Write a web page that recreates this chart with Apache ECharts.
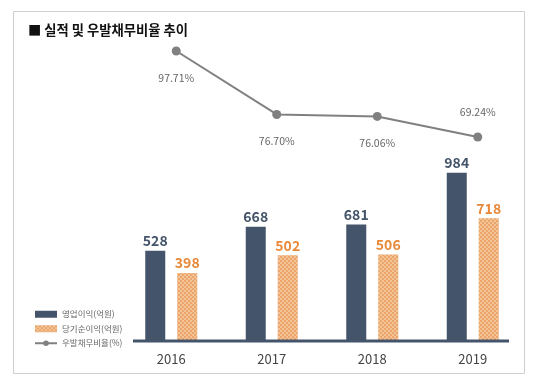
<!DOCTYPE html>
<html><head><meta charset="utf-8">
<script src="https://cdn.jsdelivr.net/npm/echarts@6/dist/echarts.min.js"></script>
<style>html,body{margin:0;padding:0;background:#fff}#c{width:540px;height:383px}</style>
</head><body><div id="c"></div>
<script>
const categories = ['2016', '2017', '2018', '2019'];
const operatingProfit = [528, 668, 681, 984];
const netProfit = [398, 502, 506, 718];
const contingentRatio = [97.71, 76.70, 76.06, 69.24];
const seriesNames = ['영업이익(억원)', '당기순이익(억원)', '우발채무비율(%)'];
const titleText = '■ 실적 및 우발채무비율 추이';

const font = '"Noto Sans CJK KR", "Noto Sans", sans-serif';
const chart = echarts.init(document.getElementById('c'), null, {renderer: 'canvas'});
chart.setOption({
  animation: false,
  backgroundColor: '#fff',
  textStyle: {fontFamily: font},
  title: {text: titleText, left: 23, top: 18, textStyle: {fontSize: 13.3, fontWeight: 'bold', color: '#111', fontFamily: font}},
  graphic: [
    {type: 'rect', shape: {x: 13.5, y: 11.5, width: 511, height: 362}, style: {fill: 'none', stroke: '#cfcfcf', lineWidth: 1}, z: -1},
    {type: 'line', shape: {x1: 133, y1: 341, x2: 509, y2: 341}, style: {stroke: '#44546A', lineWidth: 3}, z: 10}
  ],
  legend: {
    orient: 'vertical', left: 29, top: 305, itemWidth: 22, itemHeight: 7, itemGap: 6,
    textStyle: {fontSize: 8.5, color: '#666', fontFamily: font},
    data: [
      {name: seriesNames[0], icon: 'rect'},
      {name: seriesNames[1], icon: 'rect'},
      {name: seriesNames[2], itemStyle: {borderWidth: 0}}
    ]
  },
  grid: [
    {left: 121, right: 17, top: 33.4, bottom: 42},
    {left: 126, right: 12, top: 51, height: 86}
  ],
  xAxis: [
    {type: 'category', gridIndex: 0, data: categories, axisLine: {show: false}, axisTick: {show: false},
     axisLabel: {fontSize: 13, color: '#444', margin: 12, fontFamily: font}},
    {type: 'category', gridIndex: 1, data: categories, show: false}
  ],
  yAxis: [
    {type: 'value', gridIndex: 0, min: 0, max: 1800, show: false, splitLine: {show: false}},
    {type: 'value', gridIndex: 1, min: 69.24, max: 97.71, show: false, splitLine: {show: false}}
  ],
  series: [
    {name: seriesNames[0], type: 'bar', xAxisIndex: 0, yAxisIndex: 0, data: operatingProfit,
     barWidth: 20, barGap: '60%', itemStyle: {color: '#44546A'},
     label: {show: true, position: 'top', distance: 3, fontSize: 14, fontWeight: 'bold', color: '#44546A', fontFamily: font}},
    {name: seriesNames[1], type: 'bar', xAxisIndex: 0, yAxisIndex: 0, data: netProfit,
     barWidth: 20, itemStyle: {color: '#EBA56B', decal: {symbol: 'rect', symbolSize: 1, dashArrayX: [[2, 2], [0, 2, 2, 0]], dashArrayY: [2, 0], color: 'rgba(255,235,210,0.45)', rotation: 0}},
     label: {show: true, position: 'top', distance: 3, fontSize: 14, fontWeight: 'bold', color: '#E8893A', fontFamily: font}},
    {name: seriesNames[2], type: 'line', xAxisIndex: 1, yAxisIndex: 1,
     data: contingentRatio.map((v, i) => i === contingentRatio.length - 1 ? {value: v, label: {position: 'top', distance: 15}} : v),
     symbol: 'circle', symbolSize: 9, lineStyle: {color: '#808080', width: 2}, itemStyle: {color: '#808080'},
     label: {show: true, position: 'bottom', distance: 17, fontSize: 10.5, color: '#666', fontFamily: font,
       formatter: p => p.value.toFixed(2) + '%'},
     emphasis: {disabled: true}}
  ]
});
</script></body></html>
